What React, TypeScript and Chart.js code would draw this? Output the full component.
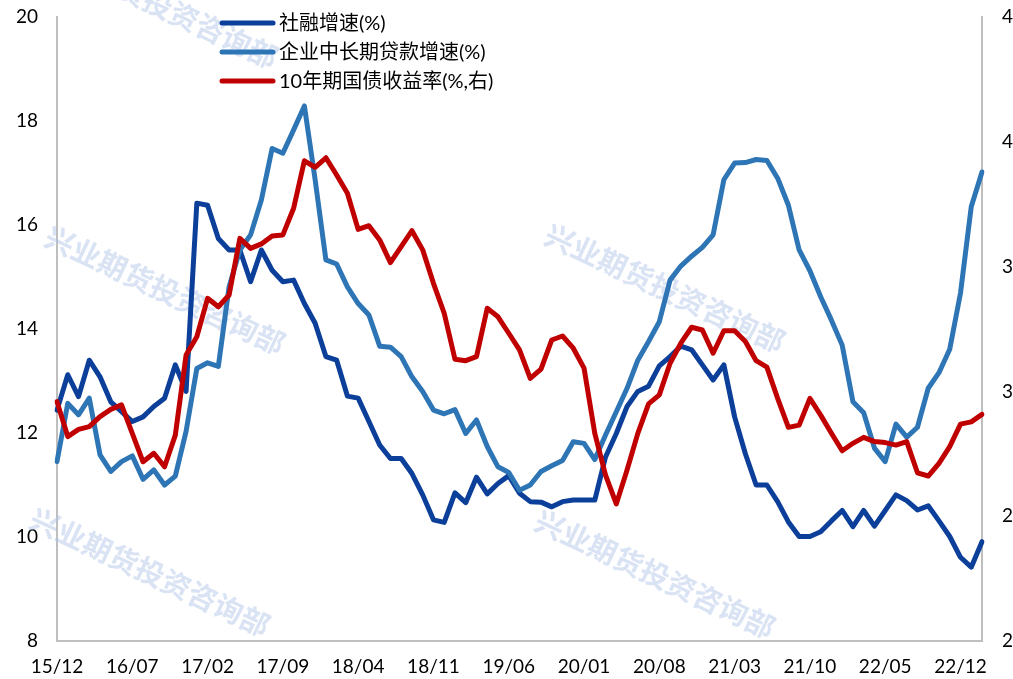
import React, { useEffect, useRef } from 'react';
import { Chart, registerables } from 'chart.js';

Chart.register(...registerables);

const months: string[] = [
  '15/12',
  '16/01', '16/02', '16/03', '16/04', '16/05', '16/06', '16/07', '16/08', '16/09', '16/10', '16/11', '16/12',
  '17/01', '17/02', '17/03', '17/04', '17/05', '17/06', '17/07', '17/08', '17/09', '17/10', '17/11', '17/12',
  '18/01', '18/02', '18/03', '18/04', '18/05', '18/06', '18/07', '18/08', '18/09', '18/10', '18/11', '18/12',
  '19/01', '19/02', '19/03', '19/04', '19/05', '19/06', '19/07', '19/08', '19/09', '19/10', '19/11', '19/12',
  '20/01', '20/02', '20/03', '20/04', '20/05', '20/06', '20/07', '20/08', '20/09', '20/10', '20/11', '20/12',
  '21/01', '21/02', '21/03', '21/04', '21/05', '21/06', '21/07', '21/08', '21/09', '21/10', '21/11', '21/12',
  '22/01', '22/02', '22/03', '22/04', '22/05', '22/06', '22/07', '22/08', '22/09', '22/10', '22/11', '22/12',
  '23/01', '23/02',
];

// 社融增速(%)
const tsfGrowth: number[] = [
  12.44, 13.12, 12.70, 13.40, 13.08, 12.60, 12.41, 12.22, 12.31, 12.51, 12.67, 13.31, 12.80,
  16.42, 16.38, 15.74, 15.52, 15.52, 14.91, 15.52, 15.13, 14.91,
  14.94, 14.49, 14.11, 13.47, 13.40, 12.71, 12.67, 12.22, 11.77, 11.51, 11.51, 11.22, 10.81, 10.33,
  10.28, 10.85, 10.66, 11.15, 10.83, 11.03, 11.18,
  10.84, 10.68, 10.67, 10.58, 10.68, 10.71, 10.71, 10.71, 11.54, 11.99, 12.51, 12.80, 12.90, 13.29,
  13.47, 13.67, 13.60, 13.31, 13.02, 13.31, 12.31, 11.60,
  11.00, 11.00, 10.68, 10.29, 10.01, 10.01, 10.10, 10.31, 10.51, 10.20, 10.51, 10.21, 10.51, 10.81,
  10.70, 10.52, 10.60, 10.31, 10.01, 9.61, 9.42, 9.91,
];

// 企业中长期贷款增速(%)
const corpLoanGrowth: number[] = [
  11.45, 12.57, 12.35, 12.67, 11.58, 11.26, 11.45, 11.56, 11.11, 11.29, 11.00, 11.17,
  12.03, 13.24, 13.35, 13.28, 14.81, 15.52, 15.81, 16.48, 17.47, 17.38,
  17.83, 18.29, 16.87, 15.33, 15.25, 14.81, 14.49, 14.27, 13.67, 13.65, 13.47, 13.08, 12.80, 12.44,
  12.37, 12.45, 11.99, 12.25, 11.74, 11.35, 11.24,
  10.90, 11.00, 11.26, 11.37, 11.47, 11.83, 11.80, 11.49, 11.96, 12.41, 12.86, 13.40, 13.76, 14.14,
  14.94, 15.21, 15.40, 15.57, 15.81, 16.87, 17.19, 17.20,
  17.26, 17.24, 16.90, 16.38, 15.52, 15.12, 14.62, 14.17, 13.69, 12.60, 12.39, 11.71, 11.45, 12.17,
  11.92, 12.11, 12.86, 13.16, 13.61, 14.69, 16.35, 17.02,
];

// 10年期国债收益率(%,右)
const bond10y: number[] = [
  2.959, 2.819, 2.848, 2.859, 2.899, 2.928, 2.946, 2.832, 2.718, 2.752, 2.698, 2.825,
  3.146, 3.219, 3.373, 3.339, 3.386, 3.613, 3.573, 3.591, 3.623, 3.627,
  3.734, 3.924, 3.898, 3.936, 3.867, 3.794, 3.649, 3.664, 3.607, 3.516, 3.580, 3.644, 3.567, 3.433,
  3.313, 3.129, 3.123, 3.139, 3.333, 3.299, 3.233,
  3.166, 3.052, 3.089, 3.206, 3.222, 3.173, 3.093, 2.832, 2.665, 2.549, 2.685, 2.832, 2.950, 2.986,
  3.113, 3.193, 3.257, 3.246, 3.153, 3.243, 3.243, 3.200,
  3.123, 3.097, 2.972, 2.856, 2.865, 2.972, 2.905, 2.832, 2.762, 2.792, 2.816, 2.799, 2.795, 2.785,
  2.799, 2.674, 2.661, 2.712, 2.779, 2.869, 2.878, 2.908,
];

const seriesNames: string[] = ['社融增速(%)', '企业中长期贷款增速(%)', '10年期国债收益率(%,右)'];
const seriesColors: string[] = ['#0B3F99', '#2E75B6', '#C00000'];
const watermarkText = '兴业期货投资咨询部';

const FONT = 'Lato, "Noto Sans CJK SC", sans-serif';

const watermarkPlugin = {
  id: 'watermark',
  beforeDatasetsDraw(chart: any) {
    const ctx = chart.ctx;
    const centers = [
      [158, 4],
      [165, 290],
      [665, 288],
      [150, 572],
      [655, 574],
    ];
    ctx.save();
    ctx.font = `bold 29px "Noto Sans CJK SC", sans-serif`;
    ctx.fillStyle = 'rgba(170, 192, 230, 0.45)';
    ctx.textAlign = 'center';
    ctx.textBaseline = 'middle';
    for (const [cx, cy] of centers) {
      ctx.save();
      ctx.translate(cx, cy);
      ctx.rotate(0.44);
      ctx.fillText(watermarkText, 0, 0);
      ctx.restore();
    }
    ctx.restore();
  },
};

const legendPlugin = {
  id: 'lineLegend',
  afterDraw(chart: any) {
    const ctx = chart.ctx;
    ctx.save();
    seriesNames.forEach((name, k) => {
      const y = 23 + k * 29;
      ctx.strokeStyle = seriesColors[k];
      ctx.lineWidth = 5;
      ctx.lineCap = 'round';
      ctx.beginPath();
      ctx.moveTo(222, y);
      ctx.lineTo(273, y);
      ctx.stroke();
      ctx.fillStyle = '#000000';
      ctx.font = `20px ${FONT}`;
      ctx.textAlign = 'left';
      ctx.textBaseline = 'middle';
      ctx.fillText(name, 279, y + 1);
    });
    ctx.restore();
  },
};

export default function App() {
  const canvasRef = useRef<HTMLCanvasElement | null>(null);

  useEffect(() => {
    if (!canvasRef.current) return;
    const lineCommon = {
      borderWidth: 5,
      pointRadius: 0,
      pointHoverRadius: 0,
      tension: 0,
      fill: false,
      borderJoinStyle: 'round' as const,
      borderCapStyle: 'round' as const,
    };
    const chart = new Chart(canvasRef.current, {
      type: 'line',
      data: {
        labels: months,
        datasets: [
          { ...lineCommon, label: seriesNames[0], data: tsfGrowth, borderColor: seriesColors[0], backgroundColor: seriesColors[0], yAxisID: 'y', order: 3 },
          { ...lineCommon, label: seriesNames[1], data: corpLoanGrowth, borderColor: seriesColors[1], backgroundColor: seriesColors[1], yAxisID: 'y', order: 2 },
          { ...lineCommon, label: seriesNames[2], data: bond10y, borderColor: seriesColors[2], backgroundColor: seriesColors[2], yAxisID: 'y1', order: 1 },
        ],
      },
      options: {
        animation: false,
        responsive: true,
        maintainAspectRatio: false,
        layout: { padding: { top: 17, left: 0, right: 0, bottom: 0 } },
        plugins: {
          legend: { display: false },
          tooltip: { enabled: false },
        },
        scales: {
          x: {
            type: 'category',
            offset: false,
            grid: { display: false, drawTicks: false },
            border: { display: true, color: '#BFBFBF', width: 2 },
            ticks: {
              autoSkip: false,
              maxRotation: 0,
              minRotation: 0,
              padding: 14,
              color: '#000000',
              font: { family: FONT, size: 19 },
              callback: (_v: any, idx: number) => (idx % 7 === 0 ? months[idx] : ''),
            },
            afterFit: (scale: any) => {
              scale.height = 38;
            },
          },
          y: {
            position: 'left',
            min: 8,
            max: 20,
            grid: { display: false, drawTicks: false },
            border: { display: true, color: '#BFBFBF', width: 2 },
            ticks: {
              stepSize: 2,
              padding: 19,
              color: '#000000',
              font: { family: FONT, size: 19 },
            },
            afterFit: (scale: any) => {
              scale.width = 57;
              scale.paddingTop = 0;
              scale.paddingBottom = 0;
            },
          },
          y1: {
            position: 'right',
            min: 2,
            max: 4.5,
            grid: { display: false, drawTicks: false },
            border: { display: true, color: '#BFBFBF', width: 2 },
            ticks: {
              stepSize: 0.5,
              padding: 20,
              color: '#000000',
              font: { family: FONT, size: 19 },
              callback: (v: any) => String(Math.floor(Number(v) + 1e-9)),
            },
            afterFit: (scale: any) => {
              scale.width = 31;
              scale.paddingTop = 0;
              scale.paddingBottom = 0;
            },
          },
        },
      },
      plugins: [watermarkPlugin, legendPlugin],
    });
    return () => chart.destroy();
  }, []);

  return (
    <div style={{ position: 'absolute', left: 0, top: 0, width: 1013, height: 679, background: '#ffffff' }}>
      <canvas ref={canvasRef} />
    </div>
  );
}
